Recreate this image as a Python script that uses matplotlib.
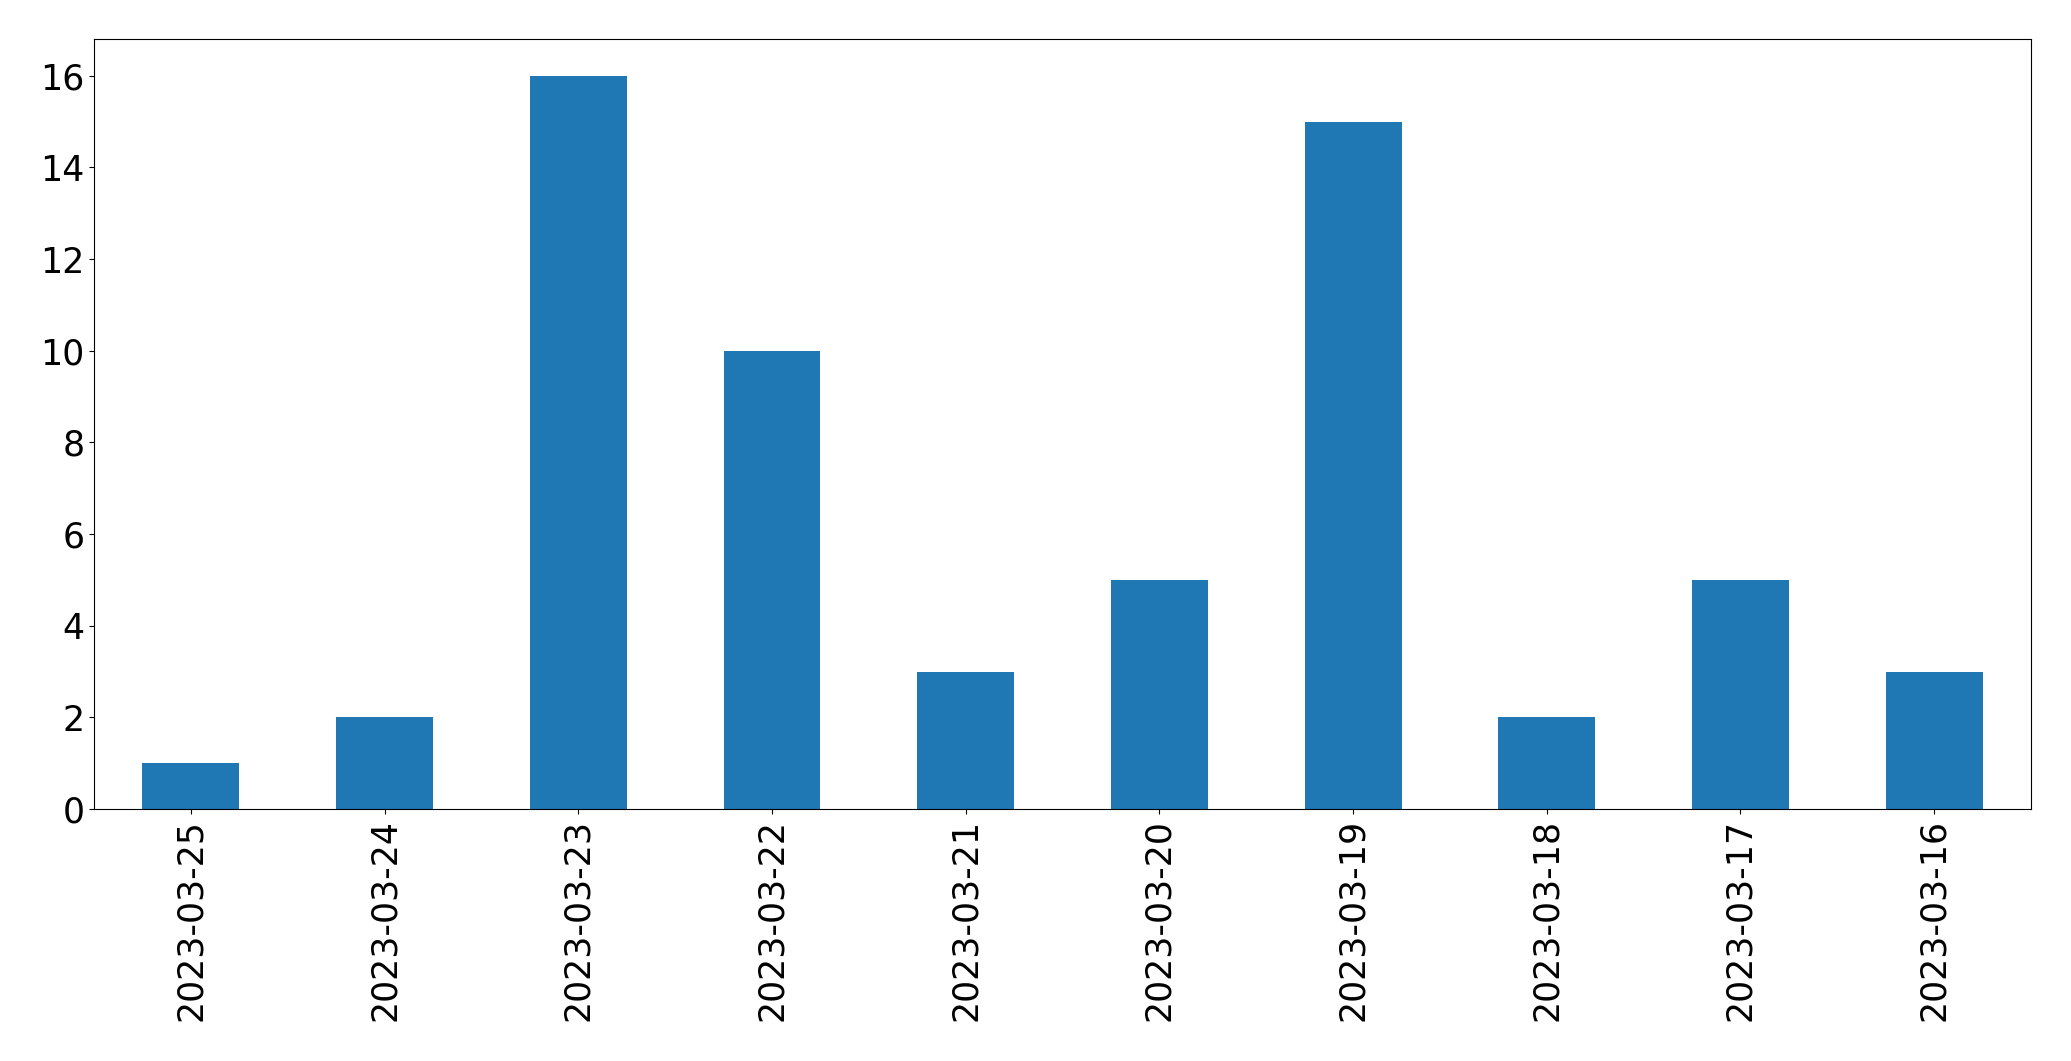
import matplotlib
matplotlib.use("Agg")
import matplotlib.pyplot as plt

dates = ['2023-03-25', '2023-03-24', '2023-03-23', '2023-03-22', '2023-03-21',
         '2023-03-20', '2023-03-19', '2023-03-18', '2023-03-17', '2023-03-16']
counts = [1, 2, 16, 10, 3, 5, 15, 2, 5, 3]

fig = plt.figure(figsize=(20.71, 10.61), dpi=100)
ax = fig.add_axes([0.0454, 0.2375, 0.9353, 0.7257])

xs = range(len(dates))
ax.bar(xs, counts, width=0.5, color='#1f77b4')
ax.set_xlim(-0.5, len(dates) - 0.5)
ax.set_xticks(list(xs))
ax.set_xticklabels(dates, rotation=90)
ax.tick_params(labelsize=25)

fig.savefig('out.png', dpi=100)
